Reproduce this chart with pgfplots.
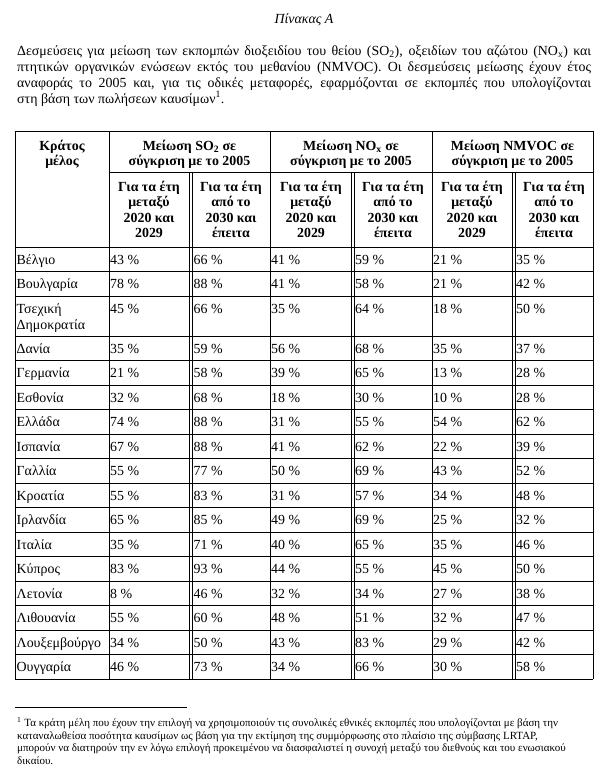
\documentclass[border=0pt]{standalone}
\usepackage{fontspec}
\setmainfont{Liberation Serif}
\usepackage{pgfplots}
\usepackage{pgfplotstable}
\pgfplotsset{compat=1.18}

\newcommand\bodyfont{\fontsize{13.9}{16}\selectfont}
\newcommand\hfont{\fontsize{13.9}{16}\selectfont\bfseries}
\newcommand\notefont{\fontsize{11.0}{12.5}\selectfont}

% values: percentage reduction compared with 2005
\pgfplotstableread[col sep=comma]{
name,y,so1,so2,no1,no2,nm1,nm2
Βέλγιο,264,43,66,41,59,21,35
Βουλγαρία,288.5,78,88,41,58,21,42
Τσεχική Δημοκρατία,313,45,66,35,64,18,50
Δανία,353,35,59,56,68,35,37
Γερμανία,377.5,21,58,39,65,13,28
Εσθονία,402,32,68,18,30,10,28
Ελλάδα,426.5,74,88,31,55,54,62
Ισπανία,451,67,88,41,62,22,39
Γαλλία,475.5,55,77,50,69,43,52
Κροατία,500,55,83,31,57,34,48
Ιρλανδία,524.5,65,85,49,69,25,32
Ιταλία,549,35,71,40,65,35,46
Κύπρος,573.5,83,93,44,55,45,50
Λετονία,598,8,46,32,34,27,38
Λιθουανία,622.5,55,60,48,51,32,47
Λουξεμβούργο,647,34,50,43,83,29,42
Ουγγαρία,671.5,46,73,34,66,30,58
}\datatable

\newcommand\hl[3]{\draw[line width=0.9pt] (axis cs:#2,#1) -- (axis cs:#3,#1);}
\newcommand\vl[3]{\draw[line width=0.9pt] (axis cs:#1,#2) -- (axis cs:#1,#3);}
\newcommand\hdr[3]{\node[anchor=base, inner sep=0pt, font=\hfont] at (axis cs:#1,#2) {#3};}
\newcommand\subA[1]{\hdr{#1}{191}{Για τα έτη}\hdr{#1}{206.5}{μεταξύ}\hdr{#1}{222}{2020 και}\hdr{#1}{237.5}{2029}}
\newcommand\subB[1]{\hdr{#1}{191}{Για τα έτη}\hdr{#1}{206.5}{από το}\hdr{#1}{222}{2030 και}\hdr{#1}{237.5}{έπειτα}}
\newcommand\valcol[2]{\addplot[draw=none, mark=none, nodes near coords={\pgfplotspointmeta~\%}, point meta=explicit symbolic,
   every node near coord/.append style={anchor=base west, inner sep=0pt, font=\bodyfont}]
   table[x expr=#1, y=y, meta=#2] {\datatable};}

\begin{document}
\begin{tikzpicture}
\begin{axis}[width=608pt, height=772pt, scale only axis, xmin=0, xmax=608, ymin=0, ymax=772,
  y dir=reverse, hide axis, clip=false]
\path (axis cs:0,0) rectangle (axis cs:608,772);

% title and introduction
\node[anchor=base, inner sep=0pt, font=\bodyfont\itshape] at (axis cs:304,23) {Πίνακας Α};
\node[anchor=base west, inner sep=0pt, font=\bodyfont] at (axis cs:17,55) {\parbox[t]{574pt}{\bodyfont
Δεσμεύσεις για μείωση των εκπομπών διοξειδίου του θείου (SO\textsubscript{2}), οξειδίων του αζώτου (NO\textsubscript{x}) και\linebreak
πτητικών οργανικών ενώσεων εκτός του μεθανίου (NMVOC). Οι δεσμεύσεις μείωσης έχουν έτος\linebreak
αναφοράς το 2005 και, για τις οδικές μεταφορές, εφαρμόζονται σε εκπομπές που υπολογίζονται\linebreak
στη βάση των πωλήσεων καυσίμων\textsuperscript{1}.}};

% table rules
\hl{131}{15}{593}
\hl{172}{109}{593}
\hl{247}{15}{593}
\hl{271.5}{15}{593}
\hl{296}{15}{593}
\hl{336}{15}{593}
\hl{360.5}{15}{593}
\hl{385}{15}{593}
\hl{409.5}{15}{593}
\hl{434}{15}{593}
\hl{458.5}{15}{593}
\hl{483}{15}{593}
\hl{507.5}{15}{593}
\hl{532}{15}{593}
\hl{556.5}{15}{593}
\hl{581}{15}{593}
\hl{605.5}{15}{593}
\hl{630}{15}{593}
\hl{654.5}{15}{593}
\hl{679}{15}{593}
\vl{15}{131}{679}
\vl{109}{131}{679}
\vl{270}{131}{679}
\vl{432}{131}{679}
\vl{593}{131}{679}
\vl{189.5}{172}{679}
\vl{192.5}{172}{679}
\vl{351}{172}{679}
\vl{354}{172}{679}
\vl{512}{172}{679}
\vl{515}{172}{679}

% header
\hdr{62}{150}{Κράτος}
\hdr{62}{165}{μέλος}
\hdr{189.5}{150}{Μείωση SO\textsubscript{2} σε}
\hdr{189.5}{165}{σύγκριση με το 2005}
\hdr{351}{150}{Μείωση NO\textsubscript{x} σε}
\hdr{351}{165}{σύγκριση με το 2005}
\hdr{512.5}{150}{Μείωση NMVOC σε}
\hdr{512.5}{165}{σύγκριση με το 2005}
\subA{149}
\subB{231}
\subA{311}
\subB{393}
\subA{472}
\subB{554}

% country names
\addplot[draw=none, mark=none, nodes near coords={\pgfplotspointmeta}, point meta=explicit symbolic,
   every node near coord/.append style={anchor=base west, inner sep=0pt, font=\bodyfont, text width=92pt, align=left}]
   table[x expr=16.5, y=y, meta=name] {\datatable};
\valcol{110}{so1}
\valcol{193.5}{so2}
\valcol{271}{no1}
\valcol{355}{no2}
\valcol{433}{nm1}
\valcol{516}{nm2}

% footnote
\draw[line width=0.6pt] (axis cs:15,707) -- (axis cs:187,707);
\node[anchor=base west, inner sep=0pt, font=\notefont] at (axis cs:17,726.5) {\parbox[t]{585pt}{\notefont\raggedright
\textsuperscript{1} Τα κράτη μέλη που έχουν την επιλογή να χρησιμοποιούν τις συνολικές εθνικές εκπομπές που υπολογίζονται με βάση την\\
καταναλωθείσα ποσότητα καυσίμων ως βάση για την εκτίμηση της συμμόρφωσης στο πλαίσιο της σύμβασης LRTAP,\\
μπορούν να διατηρούν την εν λόγω επιλογή προκειμένου να διασφαλιστεί η συνοχή μεταξύ του διεθνούς και του ενωσιακού\\
δικαίου.}};
\end{axis}
\end{tikzpicture}
\end{document}
